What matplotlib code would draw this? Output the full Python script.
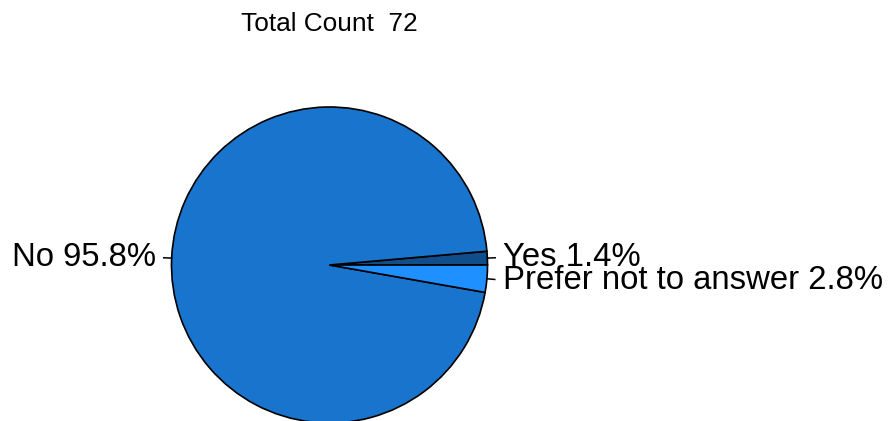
import numpy as np
import matplotlib
matplotlib.use("Agg")
import matplotlib.pyplot as plt

categories = ["Yes", "No", "Prefer not to answer"]
counts = [1, 69, 2]
colors = ["#104E8B", "#1874CD", "#1E90FF"]
title = "Total Count  72"

plt.rcParams['font.family'] = ['Liberation Sans', 'DejaVu Sans']

W, H = 889, 421
fig = plt.figure(figsize=(W / 100, H / 100), dpi=100)
ax = fig.add_axes([0, 0, 1, 1])
ax.axis('off')

cx, cy, r = 329.5, 265, 158.0

total = sum(counts)
wedges, _ = ax.pie(counts, colors=colors, startangle=0, counterclock=True,
                   radius=1.0, center=(0, 0),
                   wedgeprops=dict(edgecolor='black', linewidth=1.2))
ax.set_aspect('auto')
ax.set_xlim(-cx / r, (W - cx) / r)
ax.set_ylim(-(H - cy) / r, cy / r)

cum = np.cumsum([0] + counts) / total * 360
for i, cat in enumerate(categories):
    mid = np.deg2rad((cum[i] + cum[i + 1]) / 2)
    x0, y0 = np.cos(mid), np.sin(mid)
    ax.plot([x0, 1.05 * x0], [y0, 1.05 * y0], color='black', lw=1.1)
    pct = counts[i] / total * 100
    ha = 'left' if x0 > 0 else 'right'
    ax.text(1.1 * x0, 1.1 * y0, f"{cat} {pct:.1f}%", ha=ha, va='center',
            fontsize=23.7)

fig.text(cx / W, 1 - 24 / H, title, ha='center', va='center', fontsize=18.9)

fig.savefig("out.png", dpi=100)
